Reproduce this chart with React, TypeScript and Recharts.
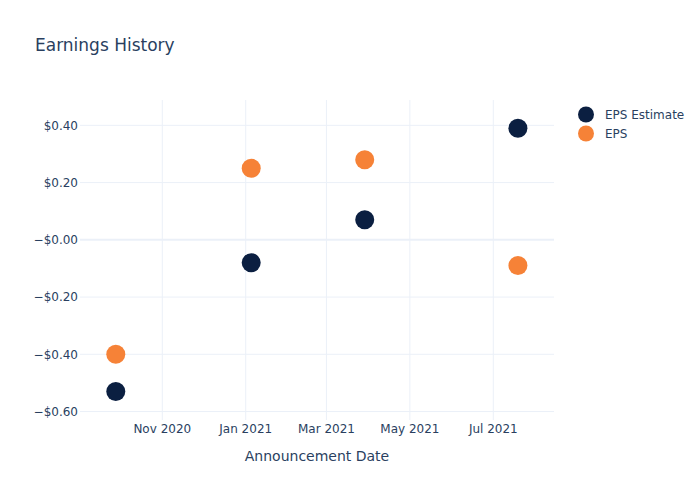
import React from 'react';
import { ScatterChart, Scatter, XAxis, YAxis, ReferenceLine, Legend } from 'recharts';

const announcementDates = ['2020-09-28', '2021-01-05', '2021-03-29', '2021-07-19'];
const epsEstimate = [-0.53, -0.08, 0.07, 0.39];
const epsActual = [-0.40, 0.25, 0.28, -0.09];

const xTickDates = ['2020-11-01', '2021-01-01', '2021-03-01', '2021-05-01', '2021-07-01'];
const xTickLabels = ['Nov 2020', 'Jan 2021', 'Mar 2021', 'May 2021', 'Jul 2021'];
const yTicks = [-0.6, -0.4, -0.2, 0, 0.2, 0.4];

const seriesNames = ['EPS Estimate', 'EPS'];
const seriesColors = ['#0B1F41', '#F68237'];

const toTs = (d: string) => new Date(d + 'T00:00:00Z').getTime();

const estimateData = announcementDates.map((d, i) => ({ x: toTs(d), y: epsEstimate[i] }));
const epsData = announcementDates.map((d, i) => ({ x: toTs(d), y: epsActual[i] }));
const xTicks = xTickDates.map(toTs);

const X_DOMAIN: [number, number] = [Date.UTC(2020, 8, 1, 20), Date.UTC(2021, 7, 14, 9)];
const Y_DOMAIN: [number, number] = [-0.6295, 0.4885];

const FONT = '"DejaVu Sans", Verdana, sans-serif';
const TEXT = '#2a3f5f';
const GRID = '#EBF0F8';

const fmtY = (v: number) => {
  const neg = v < 0 || v === 0;
  return (neg ? '\u2212' : '') + '$' + Math.abs(v).toFixed(2);
};
const fmtX = (v: number) => {
  const i = xTicks.indexOf(v);
  return i >= 0 ? xTickLabels[i] : '';
};

const makeDot = (color: string) => (props: any) => (
  <circle cx={props.cx} cy={props.cy} r={9.5} fill={color} />
);

const LegendContent = () => (
  <svg width={130} height={45} style={{ display: 'block' }}>
    {seriesNames.map((name, i) => (
      <g key={name}>
        <circle cx={16} cy={14.5 + i * 19} r={8} fill={seriesColors[i]} />
        <text x={35} y={14.5 + i * 19} dominantBaseline="central" fontSize={12} fill={TEXT} fontFamily={FONT}>
          {name}
        </text>
      </g>
    ))}
  </svg>
);

export default function App() {
  return (
    <div style={{ position: 'absolute', left: 0, top: 0, width: 700, height: 500, background: '#fff', fontFamily: FONT }}>
      <ScatterChart width={700} height={500} margin={{ top: 100, right: 146, bottom: 50, left: 0 }}>
        <XAxis
          type="number"
          dataKey="x"
          domain={X_DOMAIN}
          ticks={xTicks}
          allowDataOverflow
          tickFormatter={fmtX}
          axisLine={false}
          tickLine={false}
          tickSize={0}
          tickMargin={4}
          height={30}
          tick={{ fill: TEXT, fontSize: 12, fontFamily: FONT }}
          interval={0}
        />
        <YAxis
          type="number"
          dataKey="y"
          domain={Y_DOMAIN}
          ticks={yTicks}
          allowDataOverflow
          tickFormatter={fmtY}
          axisLine={false}
          tickLine={false}
          tickSize={0}
          tickMargin={2}
          width={80}
          tick={{ fill: TEXT, fontSize: 12, fontFamily: FONT }}
          interval={0}
        />
        {xTicks.map((t) => (
          <ReferenceLine key={'vx' + t} x={t} stroke={GRID} strokeWidth={1} />
        ))}
        {yTicks.map((t) => (
          <ReferenceLine key={'hy' + t} y={t} stroke={GRID} strokeWidth={t === 0 ? 2 : 1} />
        ))}
        <Legend
          layout="vertical"
          align="center"
          verticalAlign="middle"
          content={LegendContent}
          wrapperStyle={{ left: 570, top: 100, width: 130, height: 45 }}
        />
        <Scatter name={seriesNames[0]} data={estimateData} fill={seriesColors[0]} shape={makeDot(seriesColors[0])} isAnimationActive={false} />
        <Scatter name={seriesNames[1]} data={epsData} fill={seriesColors[1]} shape={makeDot(seriesColors[1])} isAnimationActive={false} />
      </ScatterChart>
      <svg width={700} height={500} style={{ position: 'absolute', left: 0, top: 0, pointerEvents: 'none' }}>
        <text x={35} y={50.5} fontSize={17} fill={TEXT} fontFamily={FONT}>Earnings History</text>
        <text x={317} y={461} fontSize={14} fill={TEXT} fontFamily={FONT} textAnchor="middle">Announcement Date</text>
      </svg>
    </div>
  );
}
